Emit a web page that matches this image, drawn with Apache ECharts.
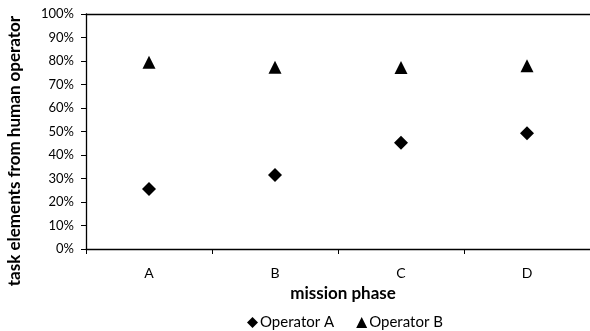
<!DOCTYPE html>
<html>
<head>
<meta charset="utf-8">
<script src="https://cdn.jsdelivr.net/npm/echarts@6/dist/echarts.min.js"></script>
<style>
  html, body { margin: 0; padding: 0; background: #fff; }
  #chart { width: 590px; height: 331px; }
</style>
</head>
<body>
<div id="chart"></div>
<script>
// Mission phases and the share of task elements coming from the human operator
const phases = ['A', 'B', 'C', 'D'];
const operatorA = [25.5, 31.5, 45.2, 49.3];
const operatorB = [79.5, 77.3, 77.2, 78.0];
const yTicks = [0, 10, 20, 30, 40, 50, 60, 70, 80, 90, 100];

const font = 'Lato, "Open Sans", sans-serif';
const chart = echarts.init(document.getElementById('chart'), null, { renderer: 'canvas' });

chart.setOption({
  animation: false,
  backgroundColor: '#ffffff',
  textStyle: { fontFamily: font },
  grid: { left: 86, top: 14, width: 508, height: 235, containLabel: false },
  legend: {
    top: 310,
    left: 242,
    itemWidth: 11,
    itemHeight: 11,
    itemGap: 22,
    textStyle: { fontFamily: font, fontSize: 15, color: '#000', padding: [0, 0, 0, -3] },
    data: [
      { name: 'Operator A', icon: 'diamond' },
      { name: 'Operator B', icon: 'triangle' }
    ]
  },
  graphic: [
    {
      // vertical axis title, centred a little below the plot middle
      type: 'text',
      x: 15,
      y: 151,
      rotation: Math.PI / 2,
      style: {
        text: 'task elements from human operator',
        font: 'bold 17px ' + font,
        fill: '#000',
        align: 'center',
        verticalAlign: 'middle'
      }
    }
  ],
  xAxis: [
    {
      type: 'category',
      data: phases,
      boundaryGap: true,
      name: 'mission phase',
      nameLocation: 'middle',
      nameGap: 32,
      nameTextStyle: { fontFamily: font, fontSize: 17, fontWeight: 'bold', color: '#000', padding: [0, 0, 0, 10] },
      axisLine: { show: true, lineStyle: { color: '#000', width: 1.3 } },
      axisTick: { show: true, length: 5, lineStyle: { color: '#000' } },
      axisLabel: { fontFamily: font, fontSize: 14, color: '#000', margin: 17 },
      splitLine: { show: false }
    },
    {
      // top edge of the plot area
      type: 'category',
      data: phases,
      position: 'top',
      axisLine: { show: true, lineStyle: { color: '#000', width: 1.3 } },
      axisTick: { show: false },
      axisLabel: { show: false },
      splitLine: { show: false }
    }
  ],
  yAxis: {
    type: 'value',
    min: yTicks[0],
    max: yTicks[yTicks.length - 1],
    interval: 10,
    axisLine: { show: true, lineStyle: { color: '#000', width: 1.3 } },
    axisTick: { show: true, length: 5, lineStyle: { color: '#000' } },
    axisLabel: { fontFamily: font, fontSize: 13, color: '#000', margin: 12, formatter: v => v + '%' },
    splitLine: { show: false }
  },
  series: [
    {
      name: 'Operator A',
      type: 'scatter',
      symbol: 'diamond',
      symbolSize: 14,
      itemStyle: { color: '#000', opacity: 1 },
      data: operatorA
    },
    {
      name: 'Operator B',
      type: 'scatter',
      symbol: 'triangle',
      symbolSize: 13,
      itemStyle: { color: '#000', opacity: 1 },
      data: operatorB
    }
  ]
});
</script>
</body>
</html>
